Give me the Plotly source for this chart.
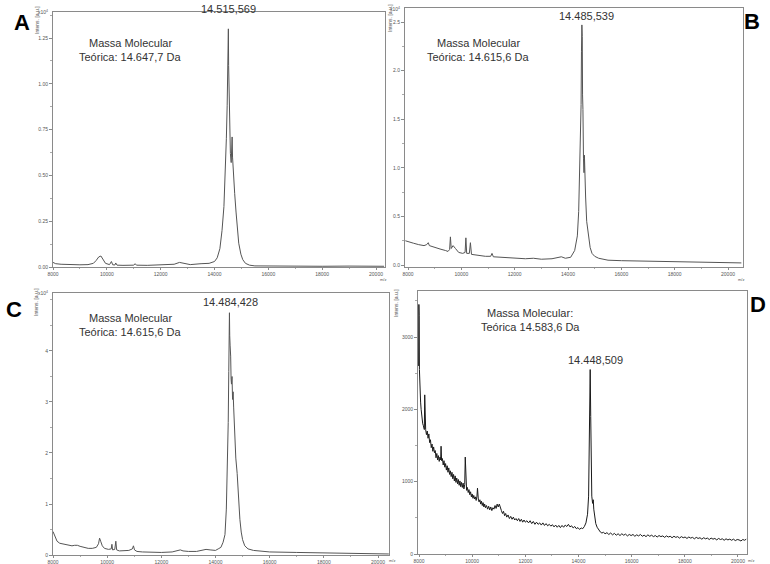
import plotly.graph_objects as go

W, H = 770, 564

# ---------------- data ----------------
A_mz = [8000, 8100, 8300, 8600, 9000, 9300, 9500, 9600, 9700, 9780, 9850, 9950, 10100, 10170, 10220,
        10300, 10330, 10380, 10600, 11000, 11050, 11100, 11500, 12000, 12500, 12700, 12900, 13100, 13500,
        13800, 14000, 14100, 14200, 14280, 14350, 14400, 14440, 14470, 14490, 14505, 14515, 14525, 14540,
        14560, 14590, 14620, 14640, 14655, 14670, 14700, 14750, 14800, 14850, 14900, 14980, 15050, 15150,
        15300, 15500, 16000, 16500, 17000, 18000, 19000, 19500, 20000, 20300]
A_int = [0.025, 0.018, 0.015, 0.012, 0.012, 0.013, 0.02, 0.035, 0.055, 0.06, 0.045, 0.02, 0.013, 0.03, 0.012,
         0.011, 0.022, 0.01, 0.009, 0.01, 0.018, 0.01, 0.009, 0.01, 0.015, 0.025, 0.02, 0.013, 0.018,
         0.02, 0.03, 0.05, 0.1, 0.2, 0.33, 0.5, 0.7, 0.88, 1.05, 1.2, 1.3, 1.1, 0.95,
         0.8, 0.62, 0.57, 0.68, 0.71, 0.6, 0.5, 0.4, 0.3, 0.2, 0.13, 0.07, 0.04, 0.02,
         0.01, 0.006, 0.005, 0.006, 0.005, 0.004, 0.005, 0.004, 0.004, 0.004]

B_mz = [7900, 8000, 8200, 8400, 8600, 8700, 8760, 8800, 9000, 9200, 9400, 9500, 9560, 9590, 9620, 9690,
        9780, 9900, 10050, 10140, 10170, 10200, 10300, 10340, 10380, 10600, 10900, 11100, 11150, 11200,
        11500, 12000, 12400, 12700, 13000, 13400, 13650, 13750, 13900, 14100, 14250, 14350, 14400, 14440,
        14470, 14490, 14505, 14520, 14535, 14545, 14560, 14580, 14600, 14615, 14630, 14660, 14700, 14760,
        14830, 14900, 15000, 15150, 15300, 15320, 15500, 16000, 17000, 18000, 19000, 20000, 20500]
B_int = [0.25, 0.24, 0.225, 0.21, 0.2, 0.21, 0.23, 0.2, 0.18, 0.165, 0.15, 0.14, 0.16, 0.29, 0.17, 0.2,
         0.17, 0.13, 0.12, 0.13, 0.28, 0.12, 0.12, 0.23, 0.11, 0.1, 0.09, 0.09, 0.12, 0.085,
         0.08, 0.07, 0.065, 0.07, 0.06, 0.065, 0.08, 0.085, 0.07, 0.08, 0.15, 0.3, 0.55, 1.0,
         1.6, 1.65, 2.2, 2.47, 2.35, 1.75, 1.6, 1.1, 0.95, 1.13, 0.95, 0.7, 0.45, 0.3,
         0.18, 0.12, 0.09, 0.07, 0.06, 0.065, 0.05, 0.045, 0.04, 0.035, 0.03, 0.025, 0.022]

C_mz = [8000, 8030, 8080, 8150, 8250, 8400, 8550, 8700, 8800, 8900, 9000, 9150, 9300, 9450, 9600, 9680,
        9720, 9760, 9820, 9900, 10050, 10150, 10175, 10200, 10280, 10320, 10350, 10450, 10600, 10800,
        10930, 10970, 11010, 11100, 11300, 11600, 12000, 12400, 12600, 12700, 12800, 13000, 13300, 13500,
        13650, 13800, 14000, 14100, 14200, 14280, 14350, 14400, 14440, 14470, 14490, 14505, 14515, 14525,
        14540, 14560, 14575, 14590, 14610, 14630, 14650, 14670, 14700, 14750, 14800, 14850, 14900, 14950,
        15000, 15080, 15200, 15400, 15700, 16000, 17000, 18000, 19000, 20000, 20400]
C_int = [0.46, 0.42, 0.33, 0.27, 0.23, 0.21, 0.19, 0.18, 0.19, 0.19, 0.17, 0.15, 0.13, 0.13, 0.15, 0.22,
         0.33, 0.27, 0.18, 0.13, 0.11, 0.12, 0.21, 0.1, 0.11, 0.27, 0.1, 0.08, 0.08, 0.09,
         0.12, 0.18, 0.1, 0.07, 0.06, 0.055, 0.05, 0.06, 0.08, 0.1, 0.08, 0.07, 0.07, 0.09,
         0.11, 0.1, 0.09, 0.12, 0.15, 0.25, 0.4, 0.9, 1.6, 2.6, 3.6, 4.4, 4.75, 4.3,
         4.1, 3.9, 3.45, 3.35, 3.5, 3.05, 3.2, 2.9, 2.4, 1.9, 1.6, 1.1, 0.7, 0.45,
         0.3, 0.18, 0.12, 0.09, 0.07, 0.06, 0.05, 0.04, 0.03, 0.025, 0.02]

D_mz = [7985, 7995, 8005, 8015, 8030, 8045, 8060, 8080, 8100, 8120, 8140, 8160, 8180, 8200, 8215, 8230,
        8250, 8280, 8310, 8340, 8370, 8400, 8430, 8460, 8490, 8520, 8550, 8580, 8610, 8640, 8670, 8700,
        8730, 8760, 8790, 8815, 8830, 8850, 8880, 8910, 8940, 8970, 9000, 9030, 9060, 9090, 9120, 9150,
        9180, 9210, 9240, 9270, 9300, 9330, 9360, 9390, 9420, 9450, 9480, 9510, 9540, 9570, 9600, 9630,
        9660, 9690, 9720, 9740, 9760, 9790, 9820, 9850, 9880, 9910, 9940, 9970, 10000, 10030, 10060,
        10090, 10120, 10150, 10180, 10200, 10230, 10260, 10290, 10320, 10350, 10380, 10410, 10440, 10470,
        10500, 10540, 10580, 10620, 10660, 10700, 10740, 10780, 10820, 10860, 10900, 10940, 10980, 11020,
        11060, 11100, 11140, 11180, 11220, 11260, 11300, 11350, 11400, 11450, 11500, 11550, 11600, 11650,
        11700, 11750, 11800, 11850, 11900, 11950, 12000, 12060, 12120, 12180, 12240, 12300, 12360, 12420,
        12480, 12540, 12600, 12660, 12720, 12780, 12840, 12900, 12960, 13020, 13080, 13140, 13200, 13260,
        13320, 13380, 13440, 13500, 13560, 13620, 13680, 13740, 13800, 13860, 13920, 13980, 14040, 14100,
        14160, 14220, 14280, 14340, 14380, 14410, 14440, 14460, 14480, 14500, 14530, 14555, 14575, 14600,
        14650, 14700, 14760, 14820, 14880, 14940, 15000, 15070, 15140, 15210, 15280, 15350, 15420, 15490,
        15560, 15630, 15700, 15770, 15840, 15910, 15980, 16050, 16120, 16190, 16260, 16330, 16400, 16470,
        16540, 16610, 16680, 16750, 16820, 16890, 16960, 17030, 17100, 17170, 17240, 17310, 17380, 17450,
        17520, 17590, 17660, 17730, 17800, 17870, 17940, 18010, 18080, 18150, 18220, 18290, 18360, 18430,
        18500, 18570, 18640, 18710, 18780, 18850, 18920, 18990, 19060, 19130, 19200, 19270, 19340, 19410,
        19480, 19550, 19620, 19690, 19760, 19830, 19900, 19970, 20040, 20110, 20180, 20250, 20310]
D_int = [2600, 3450, 3300, 2550, 2200, 2350, 2100, 2000, 1900, 1850, 1800, 1780, 1750, 1720, 2200, 1800,
         1720, 1650, 1700, 1600, 1660, 1540, 1580, 1470, 1520, 1420, 1480, 1400, 1430, 1330, 1390, 1300,
         1360, 1280, 1340, 1300, 1490, 1290, 1320, 1230, 1290, 1200, 1250, 1160, 1220, 1130, 1190, 1100,
         1150, 1070, 1130, 1040, 1100, 1010, 1080, 990, 1050, 970, 1030, 950, 1010, 930, 990, 920,
         980, 900, 960, 1340, 940, 880, 920, 850, 890, 820, 860, 790, 830, 770, 810,
         760, 790, 740, 800, 910, 760, 720, 750, 690, 730, 670, 710, 650, 690,
         640, 670, 620, 660, 610, 650, 600, 640, 620, 670, 630, 690, 650, 690,
         620, 600, 560, 590, 530, 560, 510, 540, 490, 520, 480, 510, 470, 490,
         460, 490, 450, 480, 440, 470, 440, 460, 430, 460, 420, 450, 410, 440,
         410, 430, 400, 430, 395, 420, 390, 410, 385, 405, 375, 400, 370, 395,
         365, 395, 370, 400, 380, 410, 375, 390, 360, 380, 350, 365, 340, 360,
         350, 380, 430, 550, 800, 1500, 2550, 1900, 1100, 800, 700, 750, 620, 520,
         420, 370, 330, 305, 290, 300, 280, 295, 270, 290, 265, 285, 260, 280,
         255, 280, 260, 275, 250, 270, 255, 270, 245, 265, 250, 270, 245, 260,
         240, 265, 245, 260, 240, 255, 235, 255, 240, 250, 230, 250, 235, 245,
         225, 245, 230, 240, 220, 240, 225, 235, 215, 235, 220, 230, 210, 230,
         215, 225, 205, 225, 210, 220, 200, 220, 205, 215, 195, 215, 200, 210,
         190, 210, 195, 205, 190, 205, 185, 200, 195, 180, 200, 190, 205, 195]

X_TICKS = [8000, 10000, 12000, 14000, 16000, 18000, 20000]

panels = [
    dict(x=A_mz, y=A_int, xd=(53, 385), yd=(12, 267), xr=(8000, 20334), yr=(0, 1.392),
         yt=[0, 0.25, 0.5, 0.75, 1.0, 1.25], ytt=["0.00", "0.25", "0.50", "0.75", "1.00", "1.25"],
         ymin=0.125, color="#555555", width=1.0),
    dict(x=B_mz, y=B_int, xd=(405, 743), yd=(8, 267), xr=(7887, 20562), yr=(-0.02, 2.644),
         yt=[0, 0.5, 1.0, 1.5, 2.0, 2.5], ytt=["0.0", "0.5", "1.0", "1.5", "2.0", "2.5"],
         ymin=0.25, color="#555555", width=1.0),
    dict(x=C_mz, y=C_int, xd=(53, 389), yd=(293, 555), xr=(8000, 20406), yr=(0, 5.137),
         yt=[0, 1, 2, 3, 4], ytt=["0", "1", "2", "3", "4"],
         ymin=0.5, color="#555555", width=1.0),
    dict(x=D_mz, y=D_int, xd=(418, 747), yd=(291, 554), xr=(7962, 20339), yr=(0, 3636),
         yt=[0, 1000, 2000, 3000], ytt=["0", "1000", "2000", "3000"],
         ymin=500, color="#1a1a1a", width=1.0),
]

fig = go.Figure()
layout = {}
for i, p in enumerate(panels):
    n = "" if i == 0 else str(i + 1)
    fig.add_trace(go.Scatter(x=p["x"], y=p["y"], mode="lines",
                             line=dict(color=p["color"], width=p["width"]),
                             xaxis="x" + n, yaxis="y" + n, showlegend=False, hoverinfo="skip"))
    ax = dict(domain=[p["xd"][0] / W, p["xd"][1] / W], range=list(p["xr"]), anchor="y" + n,
              automargin=False,
              showline=True, mirror=True, linecolor="#8a8a8a", linewidth=1, showgrid=False, zeroline=False,
              ticks="outside", ticklen=2, tickcolor="#8a8a8a", tickvals=X_TICKS,
              ticktext=[str(v) for v in X_TICKS],
              tickfont=dict(size=5, color="#555"),
              minor=dict(ticks="outside", ticklen=1, tickcolor="#aaa", dtick=1000, tick0=8000))
    ay = dict(domain=[1 - p["yd"][1] / H, 1 - p["yd"][0] / H], range=list(p["yr"]), anchor="x" + n,
              automargin=False,
              showline=True, mirror=True, linecolor="#8a8a8a", linewidth=1, showgrid=False, zeroline=False,
              ticks="outside", ticklen=3, tickcolor="#8a8a8a", tickvals=p["yt"], ticktext=p["ytt"],
              tickfont=dict(size=5, color="#555"),
              minor=dict(ticks="outside", ticklen=2, tickcolor="#aaa", dtick=p["ymin"], tick0=0))
    layout["xaxis" + n] = ax
    layout["yaxis" + n] = ay

fig.update_layout(**layout)

ann = []
def A(px, py, text, size=11, color="#333", bold=False, angle=0, xanchor="center"):
    ann.append(dict(x=px / W, y=1 - py / H, xref="paper", yref="paper",
                    text=("<b>%s</b>" % text) if bold else text,
                    showarrow=False, font=dict(size=size, color=color), textangle=angle,
                    xanchor=xanchor, yanchor="middle"))

# panel letters
A(22, 22, "A", 22, "#000", True)
A(752, 21, "B", 22, "#000", True)
A(14, 309, "C", 22, "#000", True)
A(758, 304, "D", 22, "#000", True)

# annotations inside panels
A(130, 43, "Massa Molecular")
A(130, 57, "Teórica: 14.647,7 Da")
A(228, 9, "14.515,569")
A(478, 43, "Massa Molecular")
A(478, 57, "Teórica: 14.615,6 Da")
A(586, 16, "14.485,539")
A(130, 318, "Massa Molecular")
A(130, 332, "Teórica: 14.615,6 Da")
A(230, 302, "14.484,428")
A(530, 313, "Massa Molecular:")
A(530, 327, "Teórica 14.583,6 Da")
A(595, 360, "14.448,509")

# exponent and axis labels
for (px, py) in [(50, 12), (402, 9), (50, 293)]:
    A(px, py, "x10<sup>4</sup>", 5, "#555", xanchor="right")
for (px, py) in [(37, 20), (390, 18), (36, 302), (396, 303)]:
    A(px, py, "Intens. [a.u.]", 5, "#555", angle=-90)
for (px, py) in [(383, 279), (741, 279), (392, 560), (751, 560)]:
    A(px, py, "m/z", 4, "#555")

fig.update_layout(annotations=ann, width=W, height=H, margin=dict(l=0, r=0, t=0, b=0, autoexpand=False),
                  paper_bgcolor="white", plot_bgcolor="white",
                  font=dict(family="Liberation Sans, Arial, sans-serif"))

fig.write_html("out.html", config={"displayModeBar": False},
               post_script="document.body.style.margin='0';")
